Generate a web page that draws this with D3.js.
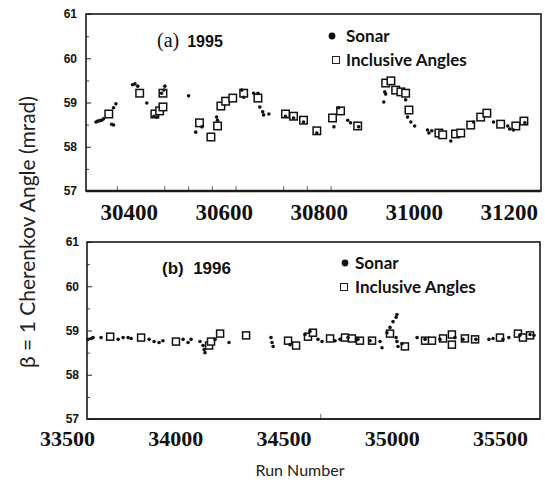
<!DOCTYPE html>
<html>
<head>
<meta charset="utf-8">
<script src="https://cdn.jsdelivr.net/npm/d3@7"></script>
<style>
  body { margin: 0; background: #fff; }
  svg { display: block; }
</style>
</head>
<body>
<script>
const width = 545;
const height = 482;

// [run number, cherenkov angle in mrad]
var sonar1995 = [
  [30331, 58.56], [30335, 58.58], [30339, 58.59], [30343, 58.60], [30347, 58.63],
  [30364, 58.51], [30368, 58.49], [30368, 58.88], [30373, 58.97],
  [30408, 59.40], [30413, 59.42], [30419, 59.37], [30438, 58.99],
  [30453, 58.69], [30459, 58.67], [30469, 59.21], [30474, 59.28], [30476, 59.37],
  [30526, 59.15], [30541, 58.33], [30554, 58.45], [30585, 58.67], [30587, 58.60],
  [30638, 59.28], [30642, 59.12], [30663, 59.21], [30672, 59.21],
  [30676, 58.90], [30682, 58.79], [30684, 58.72], [30695, 58.74],
  [30730, 58.69], [30747, 58.65], [30768, 58.56], [30796, 58.31],
  [30832, 58.45], [30842, 58.88], [30861, 58.60], [30867, 58.54], [30884, 58.45],
  [30937, 59.01], [30939, 59.24], [30941, 59.19], [30983, 59.06],
  [30987, 58.67], [30994, 58.56], [31002, 58.47],
  [31029, 58.38], [31032, 58.31], [31038, 58.36], [31078, 58.13],
  [31126, 58.56], [31168, 58.56], [31198, 58.47], [31202, 58.40], [31210, 58.38], [31234, 58.54]
];
var inclusive1995 = [
  [30358, 58.74], [30423, 59.21], [30455, 58.74], [30465, 58.81], [30472, 58.90], [30472, 59.21],
  [30549, 58.54], [30573, 58.22], [30587, 58.47], [30594, 58.92], [30604, 59.03],
  [30619, 59.10], [30642, 59.21], [30672, 59.10],
  [30730, 58.74], [30747, 58.69], [30768, 58.60], [30796, 58.36],
  [30829, 58.65], [30846, 58.81], [30882, 58.47],
  [30941, 59.44], [30952, 59.49], [30962, 59.28], [30973, 59.24], [30983, 59.21], [30990, 58.83],
  [31053, 58.31], [31061, 58.27], [31088, 58.29], [31099, 58.31],
  [31120, 58.49], [31141, 58.67], [31154, 58.76], [31183, 58.51], [31215, 58.47], [31232, 58.58]
];
var sonar1996 = [
  [33597, 58.80], [33611, 58.82], [33620, 58.84], [33657, 58.84], [33736, 58.80],
  [33759, 58.84], [33782, 58.84], [33796, 58.82], [33879, 58.80], [33902, 58.75],
  [33925, 58.73], [33943, 58.77], [34036, 58.80], [34059, 58.73], [34073, 58.80],
  [34114, 58.75], [34128, 58.66], [34133, 58.57], [34137, 58.50], [34184, 58.80], [34248, 58.73],
  [34442, 58.84], [34447, 58.73], [34452, 58.64], [34530, 58.68], [34599, 58.91], [34622, 58.98],
  [34659, 58.80], [34678, 58.75], [34738, 58.77], [34761, 58.80], [34798, 58.84],
  [34844, 58.80], [34900, 58.77], [34946, 58.75], [34955, 58.61],
  [34978, 58.95], [34992, 59.07], [35006, 59.20], [35020, 59.30], [35024, 59.36],
  [35020, 58.84], [35024, 58.75], [35029, 58.64], [35047, 58.70],
  [35117, 58.84], [35154, 58.80], [35223, 58.80], [35292, 58.84], [35329, 58.80],
  [35389, 58.80], [35449, 58.80], [35468, 58.82], [35514, 58.80], [35541, 58.84],
  [35592, 58.89], [35639, 58.91], [35657, 58.89]
];
var inclusive1996 = [
  [33699, 58.86], [33842, 58.84], [34003, 58.75], [34156, 58.66], [34165, 58.75],
  [34207, 58.93], [34327, 58.89],
  [34521, 58.77], [34558, 58.66], [34613, 58.86], [34636, 58.95], [34715, 58.82],
  [34784, 58.84], [34816, 58.82], [34853, 58.77], [34909, 58.77], [34992, 58.93],
  [35061, 58.64], [35154, 58.77], [35186, 58.77], [35237, 58.82], [35278, 58.91],
  [35278, 58.68], [35338, 58.82], [35385, 58.80], [35500, 58.84], [35583, 58.93],
  [35606, 58.84], [35639, 58.89]
];

// tick labels
var angleTicks = [57, 58, 59, 60, 61];
var angleMinorTicks = [57.5, 58.5, 59.5, 60.5];
var runTicks1995 = [30400, 30600, 30800, 31000, 31200];
var runMinorTicks1995 = [30375, 30475, 30525, 30575, 30625, 30725, 30775, 30825];
var runTicks1996 = [33500, 34000, 34500, 35000, 35500];
var runMinorTicks1996 = [34670];

var svg;

// one panel: box, axes, points, legend
function generatePanel(opt) {
    var x = d3.scaleLinear().domain(opt.runDomain).range([opt.left, opt.right]);
    var y = d3.scaleLinear().domain([57, 61]).range([opt.bottom, opt.top]);
    var g = svg.append("g");

    // y axis, ticks pointing inward
    var yAxis = g.append("g")
        .attr("transform", "translate(" + opt.left + ",0)")
        .call(d3.axisLeft(y).tickValues(angleTicks).tickSizeInner(-5).tickSizeOuter(0)
            .tickPadding(opt.yPad).tickFormat(d3.format("d")));
    yAxis.select(".domain").remove();
    yAxis.selectAll("text")
        .style("font-family", "'Liberation Sans', Arial, sans-serif")
        .style("font-size", "12px")
        .style("font-weight", "bold")
        .attr("fill", "#111");
    yAxis.selectAll("line").attr("stroke", "#222");

    var yMinor = g.append("g")
        .attr("transform", "translate(" + opt.left + ",0)")
        .call(d3.axisLeft(y).tickValues(angleMinorTicks).tickSizeInner(-3).tickSizeOuter(0).tickFormat(""));
    yMinor.select(".domain").remove();
    yMinor.selectAll("line").attr("stroke", "#444");

    // x axis with big serif labels
    var xAxis = g.append("g")
        .attr("transform", "translate(0," + opt.bottom + ")")
        .call(d3.axisBottom(x).tickValues(opt.runTicks).tickSize(0).tickPadding(opt.xPad).tickFormat(d3.format("d")));
    xAxis.select(".domain").remove();
    xAxis.selectAll("text")
        .style("font-family", "'Liberation Serif', 'Times New Roman', serif")
        .style("font-size", opt.xFont + "px")
        .style("font-weight", "bold")
        .attr("fill", "#111");

    var xMinor = g.append("g")
        .attr("transform", "translate(0," + opt.bottom + ")")
        .call(d3.axisBottom(x).tickValues(opt.minorTicks).tickSizeInner(-5).tickSizeOuter(0).tickFormat(""));
    xMinor.select(".domain").remove();
    xMinor.selectAll("line").attr("stroke", "#666");

    // frame
    g.append("rect")
        .attr("x", opt.left)
        .attr("y", opt.top)
        .attr("width", opt.right - opt.left)
        .attr("height", opt.bottom - opt.top)
        .attr("fill", "none")
        .attr("stroke", "#1a1a1a")
        .attr("stroke-width", 1.6);
    g.append("line")
        .attr("x1", opt.left).attr("x2", opt.right)
        .attr("y1", opt.bottom).attr("y2", opt.bottom)
        .attr("stroke", "#1a1a1a")
        .attr("stroke-width", opt.bottomStroke);

    // inclusive angles: open squares
    var s = opt.sq;
    g.selectAll("rect.incl")
        .data(opt.inclusive)
        .enter()
        .append("rect")
        .attr("class", "incl")
        .attr("x", (d) => x(d[0]) - s / 2)
        .attr("y", (d) => y(d[1]) - s / 2)
        .attr("width", s)
        .attr("height", s)
        .attr("fill", "white")
        .attr("stroke", "#111")
        .attr("stroke-width", 1.5);

    // sonar: small dots
    g.selectAll("circle.sonar")
        .data(opt.sonar)
        .enter()
        .append("circle")
        .attr("class", "sonar")
        .attr("cx", (d) => x(d[0]))
        .attr("cy", (d) => y(d[1]))
        .attr("r", 1.8)
        .attr("fill", "#111");

    // legend
    var lg = opt.legend;
    g.append("circle")
        .attr("cx", lg.dotX).attr("cy", lg.y1)
        .attr("r", 3.4)
        .attr("fill", "#111");
    g.append("rect")
        .attr("x", lg.sqX - 3.5).attr("y", lg.y2 - 3.5)
        .attr("width", 7).attr("height", 7)
        .attr("fill", "white")
        .attr("stroke", "#222")
        .attr("stroke-width", 1);
    g.append("text")
        .attr("x", lg.textX).attr("y", lg.y1 + 6)
        .attr("class", "legend")
        .text("Sonar");
    g.append("text")
        .attr("x", lg.textX).attr("y", lg.y2 + 6)
        .attr("class", "legend")
        .text("Inclusive Angles");
    g.selectAll("text.legend")
        .style("font-family", "Lato, 'Liberation Sans', sans-serif")
        .style("font-size", "17px")
        .style("font-weight", "bold")
        .attr("fill", "#111");

    return g;
}

function generateTitles(top, bottom) {
    // (a) 1995
    var ta = top.append("text").attr("x", 157).attr("y", 47).attr("fill", "#111");
    ta.append("tspan")
        .style("font-family", "'Liberation Serif', serif")
        .style("font-size", "20px")
        .text("(a)");
    ta.append("tspan")
        .attr("dx", 8)
        .style("font-family", "'Liberation Sans', Arial, sans-serif")
        .style("font-size", "16px")
        .style("font-weight", "bold")
        .text("1995");

    // (b) 1996
    bottom.append("text")
        .attr("x", 162).attr("y", 274)
        .attr("fill", "#111")
        .style("font-family", "'Liberation Sans', Arial, sans-serif")
        .style("font-size", "17px")
        .style("font-weight", "bold")
        .attr("xml:space", "preserve")
        .text("(b)  1996");

    // axis titles
    svg.append("text")
        .attr("transform", "translate(35,232) rotate(-90)")
        .attr("text-anchor", "middle")
        .attr("fill", "#222")
        .style("font-family", "Lato, 'Liberation Sans', sans-serif")
        .style("font-size", "21px")
        .text("β = 1 Cherenkov Angle (mrad)");

    svg.append("text")
        .attr("x", 300).attr("y", 476)
        .attr("text-anchor", "middle")
        .attr("fill", "#222")
        .style("font-family", "Lato, 'Liberation Sans', sans-serif")
        .style("font-size", "16px")
        .text("Run Number");
}

document.addEventListener("DOMContentLoaded", function () {
    svg = d3.select("body")
        .append("svg")
        .attr("width", width)
        .attr("height", height);

    var top = generatePanel({
        left: 86, right: 541, top: 14, bottom: 191,
        runDomain: [30310, 31268],
        runTicks: runTicks1995, minorTicks: runMinorTicks1995,
        xFont: 23, xPad: 13, yPad: 9, bottomStroke: 2.6, sq: 7.5,
        sonar: sonar1995, inclusive: inclusive1995,
        legend: { dotX: 332, sqX: 336, textX: 346, y1: 36, y2: 60 }
    });
    var bottom = generatePanel({
        left: 87, right: 540, top: 242, bottom: 419,
        runDomain: [33592, 35685],
        runTicks: runTicks1996, minorTicks: runMinorTicks1996,
        xFont: 22, xPad: 11, yPad: 8, bottomStroke: 1.6, sq: 7,
        sonar: sonar1996, inclusive: inclusive1996,
        legend: { dotX: 345, sqX: 344, textX: 355, y1: 263, y2: 287 }
    });

    generateTitles(top, bottom);
});
</script>
</body>
</html>
